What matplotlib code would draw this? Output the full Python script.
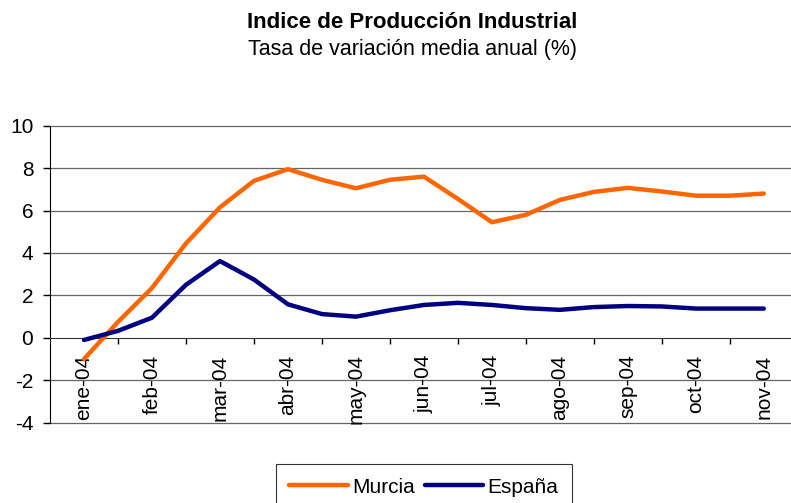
import matplotlib
matplotlib.use("Agg")
import matplotlib.pyplot as plt
import numpy as np

plt.rcParams["font.family"] = ["Liberation Sans", "DejaVu Sans"]

# ==== データ ====
meses = ["ene-04", "feb-04", "mar-04", "abr-04", "may-04", "jun-04",
         "jul-04", "ago-04", "sep-04", "oct-04", "nov-04"]
# 半月刻みの位置 (0 = ene-04)
pos = np.arange(0, 10.5, 0.5)
murcia = [-1.0, 0.75, 2.35, 4.45, 6.15, 7.4, 7.95, 7.45, 7.05, 7.45, 7.6,
          6.55, 5.45, 5.8, 6.5, 6.88, 7.07, 6.9, 6.7, 6.7, 6.8]
espana = [-0.1, 0.33, 0.95, 2.5, 3.62, 2.75, 1.58, 1.12, 1.0, 1.3, 1.55,
          1.65, 1.55, 1.4, 1.32, 1.45, 1.5, 1.48, 1.38, 1.38, 1.38]
yticks = [-4, -2, 0, 2, 4, 6, 8, 10]

# ==== 描画 ====
fig = plt.figure(figsize=(7.91, 5.03), dpi=100)
ax = fig.add_axes([50 / 791, 1 - 422.7 / 503, 741 / 791, (422.7 - 125.7) / 503])

# spine の位置は先に決める (set_position で tick 設定がリセットされるため)
for s in ["top", "right"]:
    ax.spines[s].set_visible(False)
ax.spines["bottom"].set_position(("data", 0))
ax.spines["bottom"].set_color("#333333")
ax.spines["left"].set_color("black")

ax.plot(pos, murcia, color="#FF6600", lw=3.2, solid_capstyle="round", label="Murcia", zorder=3)
ax.plot(pos, espana, color="#000080", lw=3.2, solid_capstyle="round", label="España", zorder=3)

ax.set_xlim(-0.5, 10.4)
ax.set_ylim(-4, 10)
ax.set_yticks(yticks)
ax.set_yticklabels([str(v) for v in yticks], fontsize=15)
ax.tick_params(axis="y", length=5, width=1, pad=7, color="black")

ax.set_xticks(range(len(meses)))
ax.set_xticklabels(meses, rotation=90, fontsize=15, va="top", ha="center")
ax.set_xticks(np.arange(0.5, 10, 1), minor=True)
ax.tick_params(axis="x", which="major", length=0, pad=12)
ax.tick_params(axis="x", which="minor", length=4, width=1, color="black")

# グリッド (0 は軸線)
for v in yticks:
    if v != 0:
        ax.axhline(v, color="#666666", lw=0.9, zorder=1, clip_on=False)

fig.text(412 / 791, 1 - 22 / 503, "Indice de Producción Industrial",
         ha="center", va="center", fontsize=16, fontweight="bold")
fig.text(412 / 791, 1 - 50 / 503, "Tasa de variación media anual (%)",
         ha="center", va="center", fontsize=15.5)

leg = fig.legend(loc="upper center", bbox_to_anchor=(424 / 791, 1 - 464 / 503), ncol=2,
                 fontsize=15, frameon=True, fancybox=False, handlelength=2.8,
                 handletextpad=0.2, columnspacing=0.5, borderpad=0.65, borderaxespad=0)
leg.get_frame().set_edgecolor("black")
leg.get_frame().set_linewidth(0.8)

fig.savefig("out.png", dpi=100)
